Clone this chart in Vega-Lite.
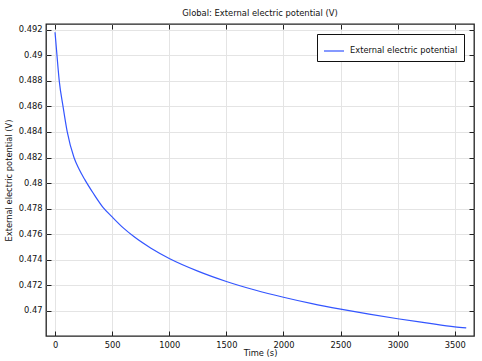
{
  "$schema": "https://vega.github.io/schema/vega-lite/v6.json",
  "width": 428,
  "height": 312,
  "autosize": {"type": "none"},
  "padding": {"left": 46, "top": 24, "right": 8, "bottom": 25},
  "background": "white",
  "config": {
    "font": "DejaVu Sans",
    "view": {"stroke": "#222222", "strokeWidth": 1.3},
    "axis": {
      "labelFont": "DejaVu Sans",
      "titleFont": "DejaVu Sans",
      "labelFontSize": 8.3,
      "titleFontSize": 8.3,
      "titleFontWeight": "normal",
      "labelColor": "#111111",
      "titleColor": "#111111",
      "gridColor": "#e4e4e4",
      "gridWidth": 1,
      "domain": false,
      "tickColor": "#222222",
      "tickSize": -5,
      "tickWidth": 1
    },
    "legend": {
      "labelFont": "DejaVu Sans",
      "labelFontSize": 8.3,
      "labelColor": "#111111"
    }
  },
  "title": {
    "text": "Global: External electric potential (V)",
    "font": "DejaVu Sans",
    "fontSize": 8.4,
    "fontWeight": "normal",
    "color": "#111111",
    "offset": 6
  },
  "data": {
    "values": [
      {"t": 0, "v": 0.4918},
      {"t": 17, "v": 0.4900},
      {"t": 37, "v": 0.4880},
      {"t": 70, "v": 0.4860},
      {"t": 107, "v": 0.4840},
      {"t": 166, "v": 0.4820},
      {"t": 210, "v": 0.4811},
      {"t": 262, "v": 0.48025},
      {"t": 335, "v": 0.4792},
      {"t": 420, "v": 0.4781},
      {"t": 500, "v": 0.47735},
      {"t": 600, "v": 0.47647},
      {"t": 690, "v": 0.47581},
      {"t": 840, "v": 0.4749},
      {"t": 1000, "v": 0.4741},
      {"t": 1250, "v": 0.47311},
      {"t": 1500, "v": 0.4723},
      {"t": 1750, "v": 0.47163},
      {"t": 2000, "v": 0.47106},
      {"t": 2250, "v": 0.47056},
      {"t": 2500, "v": 0.47013},
      {"t": 2750, "v": 0.46974},
      {"t": 3000, "v": 0.46938},
      {"t": 3250, "v": 0.46906},
      {"t": 3500, "v": 0.46875},
      {"t": 3600, "v": 0.46866}
    ]
  },
  "layer": [
    {
      "mark": {"type": "line", "strokeWidth": 1.2, "interpolate": "monotone"},
      "encoding": {
        "x": {
          "field": "t", "type": "quantitative",
          "scale": {"domain": [-79, 3668], "nice": false, "zero": false},
          "axis": {"orient": "bottom", "title": "Time (s)", "format": "d", "values": [0, 500, 1000, 1500, 2000, 2500, 3000, 3500], "labelPadding": 9, "titlePadding": 0, "labelFlush": false}
        },
        "y": {
          "field": "v", "type": "quantitative",
          "scale": {"domain": [0.46803, 0.49245], "nice": false, "zero": false},
          "axis": {"orient": "left", "title": "External electric potential (V)", "format": "~g", "values": [0.47, 0.472, 0.474, 0.476, 0.478, 0.48, 0.482, 0.484, 0.486, 0.488, 0.49, 0.492], "labelPadding": 9, "titlePadding": 5, "labelFlush": false}
        },
        "color": {
          "datum": "External electric potential",
          "type": "nominal",
          "scale": {"range": ["#3355ff"]},
          "legend": {
            "title": null,
            "orient": "top-right",
            "offset": 10,
            "symbolType": "stroke",
            "symbolSize": 400,
            "symbolStrokeWidth": 1.2,
            "strokeColor": "#111111",
            "fillColor": "white",
            "padding": 6,
            "labelOffset": 5
          }
        }
      }
    },
    {
      "mark": {"type": "line", "opacity": 0},
      "encoding": {
        "x": {
          "field": "t", "type": "quantitative",
          "scale": {"domain": [-79, 3668], "nice": false, "zero": false},
          "axis": {"orient": "top", "title": null, "labels": false, "grid": false, "values": [0, 500, 1000, 1500, 2000, 2500, 3000, 3500]}
        },
        "y": {
          "field": "v", "type": "quantitative",
          "scale": {"domain": [0.46803, 0.49245], "nice": false, "zero": false},
          "axis": {"orient": "right", "title": null, "labels": false, "grid": false, "values": [0.47, 0.472, 0.474, 0.476, 0.478, 0.48, 0.482, 0.484, 0.486, 0.488, 0.49, 0.492]}
        }
      }
    }
  ],
  "resolve": {"axis": {"x": "independent", "y": "independent"}}
}
